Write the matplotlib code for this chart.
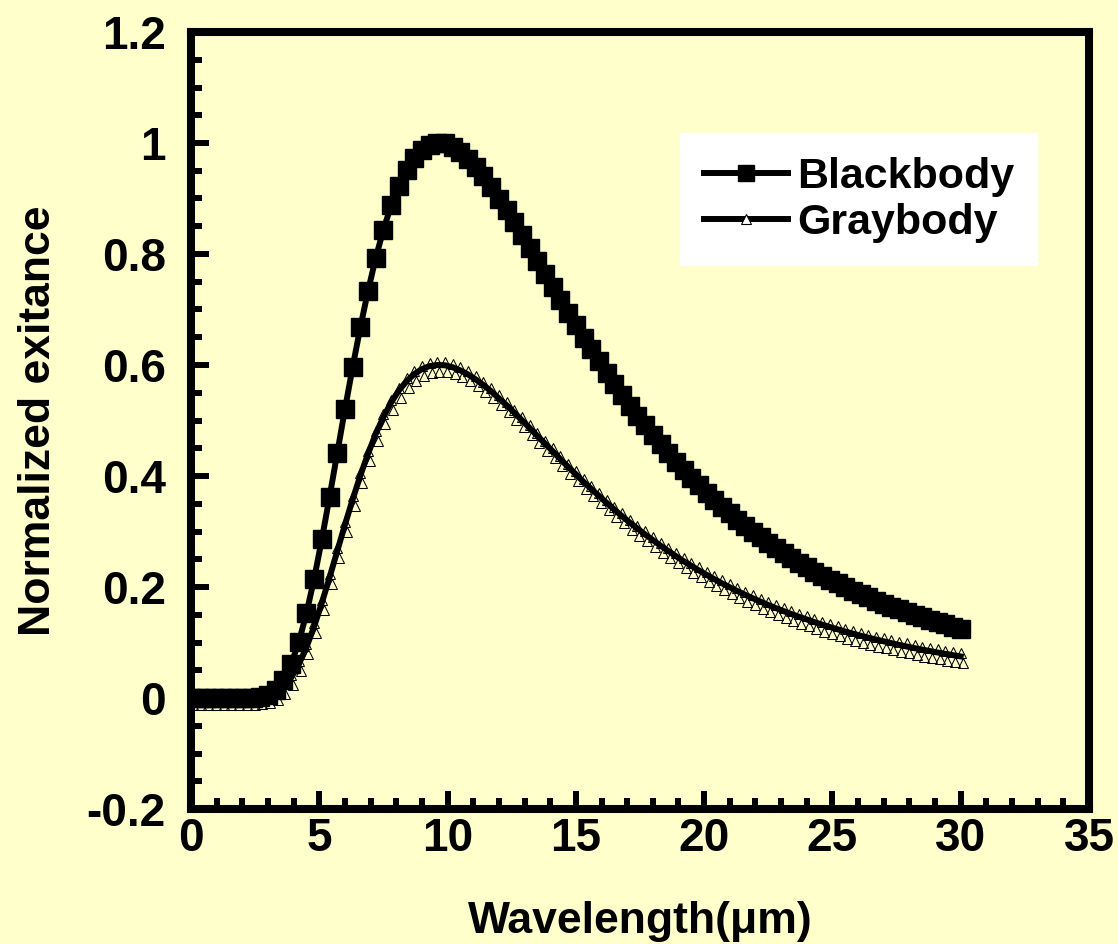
import matplotlib
matplotlib.use('Agg')
import matplotlib.pyplot as plt
import matplotlib.transforms as mtransforms
from matplotlib.ticker import MultipleLocator, FixedLocator, FixedFormatter
from matplotlib.lines import Line2D

# ---------------- data ----------------
wavelength = [0.0, 0.3, 0.6, 0.9, 1.2, 1.5, 1.8, 2.1, 2.4, 2.7,
              3.0, 3.3, 3.6, 3.9, 4.2, 4.5, 4.8, 5.1, 5.4, 5.7,
              6.0, 6.3, 6.6, 6.9, 7.2, 7.5, 7.8, 8.1, 8.4, 8.7,
              9.0, 9.3, 9.6, 9.9, 10.2, 10.5, 10.8, 11.1, 11.4, 11.7,
              12.0, 12.3, 12.6, 12.9, 13.2, 13.5, 13.8, 14.1, 14.4, 14.7,
              15.0, 15.3, 15.6, 15.9, 16.2, 16.5, 16.8, 17.1, 17.4, 17.7,
              18.0, 18.3, 18.6, 18.9, 19.2, 19.5, 19.8, 20.1, 20.4, 20.7,
              21.0, 21.3, 21.6, 21.9, 22.2, 22.5, 22.8, 23.1, 23.4, 23.7,
              24.0, 24.3, 24.6, 24.9, 25.2, 25.5, 25.8, 26.1, 26.4, 26.7,
              27.0, 27.3, 27.6, 27.9, 28.2, 28.5, 28.8, 29.1, 29.4, 29.7,
              30.0]

blackbody = [0.0, 0.0, 0.0, 0.0, 0.0, 0.0, 0.0, 0.0, 0.0003, 0.0016,
             0.0056, 0.015, 0.0324, 0.0606, 0.1006, 0.1525, 0.215, 0.2859, 0.3624, 0.4412,
             0.5203, 0.5961, 0.668, 0.7336, 0.7929, 0.8439, 0.8874, 0.9233, 0.9512, 0.9726,
             0.9878, 0.9968, 1.0, 0.9991, 0.9931, 0.9836, 0.9715, 0.9565, 0.9397, 0.921,
             0.900, 0.8794, 0.857, 0.834, 0.811, 0.787, 0.764, 0.741, 0.717, 0.694,
             0.672, 0.649, 0.628, 0.607, 0.586, 0.566, 0.546, 0.527, 0.509, 0.491,
             0.4745, 0.4575, 0.4417, 0.426, 0.411, 0.397, 0.383, 0.3697, 0.3566, 0.3442,
             0.3325, 0.321, 0.310, 0.2994, 0.2894, 0.2794, 0.2699, 0.261, 0.2521, 0.2438,
             0.236, 0.2279, 0.2204, 0.2133, 0.2064, 0.1996, 0.1933, 0.187, 0.1812, 0.1756,
             0.1701, 0.1646, 0.1595, 0.1547, 0.1499, 0.1453, 0.141, 0.1366, 0.1326, 0.1286,
             0.1248]

graybody = [0.0, 0.0, 0.0, 0.0, 0.0, 0.0, 0.0, 0.0, 0.0002, 0.001,
            0.0034, 0.009, 0.0194, 0.0364, 0.0604, 0.0915, 0.129, 0.1715, 0.2174, 0.2647,
            0.3122, 0.3577, 0.4008, 0.4402, 0.4757, 0.5063, 0.5324, 0.554, 0.5707, 0.5836,
            0.5927, 0.5981, 0.6, 0.5995, 0.5959, 0.5902, 0.5829, 0.5739, 0.5638, 0.5526,
            0.54, 0.5276, 0.5142, 0.5004, 0.4866, 0.4722, 0.4584, 0.4446, 0.4302, 0.4164,
            0.4032, 0.3894, 0.3768, 0.3642, 0.3516, 0.3396, 0.3276, 0.3162, 0.3054, 0.2946,
            0.2847, 0.2745, 0.265, 0.2556, 0.2466, 0.2382, 0.2298, 0.2218, 0.214, 0.2065,
            0.1995, 0.1926, 0.186, 0.1796, 0.1736, 0.1676, 0.1619, 0.1566, 0.1513, 0.1463,
            0.1416, 0.1367, 0.1322, 0.128, 0.1238, 0.1198, 0.116, 0.1122, 0.1087, 0.1054,
            0.1021, 0.0988, 0.0957, 0.0928, 0.0899, 0.0872, 0.0846, 0.082, 0.0796, 0.0772,
            0.0749]

x_ticks = [0, 5, 10, 15, 20, 25, 30, 35]
x_tick_labels = ['0', '5', '10', '15', '20', '25', '30', '35']
y_ticks = [-0.2, 0.0, 0.2, 0.4, 0.6, 0.8, 1.0, 1.2]
y_tick_labels = ['-0.2', '0', '0.2', '0.4', '0.6', '0.8', '1', '1.2']
series_labels = ['Blackbody', 'Graybody']
x_label = 'Wavelength(\u03bcm)'
y_label = 'Normalized exitance'

# ---------------- style ----------------
plt.rcParams['font.family'] = ['Liberation Sans', 'DejaVu Sans']
plt.rcParams['font.weight'] = 'bold'
plt.rcParams['axes.unicode_minus'] = False

BG = '#FFFFCC'
W, H = 1118, 944
fig = plt.figure(figsize=(W / 100, H / 100), dpi=100, facecolor=BG)
ax = fig.add_axes([191 / W, 1 - 809 / H, (1089 - 191) / W, (809 - 32) / H])
ax.set_facecolor(BG)

# graybody: open triangles (drawn with a slight double-print look) under a thick line
tri_up = mtransforms.offset_copy(ax.transData, fig=fig, x=0, y=3, units='dots')
tri_dn = mtransforms.offset_copy(ax.transData, fig=fig, x=2, y=-7, units='dots')
for tr in (tri_up, tri_dn):
    ax.plot(wavelength, graybody, linestyle='none', marker='^', ms=6.5,
            mfc='none', mec='black', mew=0.75, zorder=2, transform=tr)
ax.plot(wavelength, graybody, color='black', lw=4.3, zorder=2.5)
# blackbody: thick line with filled squares
ax.plot(wavelength, blackbody, color='black', lw=4.3, marker='s', ms=12.5,
        mfc='black', mec='black', zorder=3)

ax.set_xlim(0, 35)
ax.set_ylim(-0.2, 1.2)
ax.xaxis.set_major_locator(FixedLocator(x_ticks))
ax.xaxis.set_major_formatter(FixedFormatter(x_tick_labels))
ax.yaxis.set_major_locator(FixedLocator(y_ticks))
ax.yaxis.set_major_formatter(FixedFormatter(y_tick_labels))
ax.xaxis.set_minor_locator(MultipleLocator(1))
ax.yaxis.set_minor_locator(MultipleLocator(0.05))

for s in ax.spines.values():
    s.set_linewidth(5.8)
    s.set_color('black')

ax.tick_params(which='both', direction='in', top=False, right=False,
               color='black', width=4.3)
ax.tick_params(which='major', length=13, labelsize=33)
ax.tick_params(which='minor', length=8)
ax.tick_params(axis='y', which='major', pad=18)
ax.tick_params(axis='x', which='major', pad=6)

ax.set_xlabel(x_label, fontsize=32, fontweight='bold')
ax.set_ylabel(y_label, fontsize=32, fontweight='bold')
ax.xaxis.set_label_coords(0.5, -0.118)
ax.yaxis.set_label_coords(-0.147, 0.5)

handles = [
    Line2D([], [], color='black', lw=4.3, marker='s', ms=12, mfc='black', mec='black'),
    Line2D([], [], color='black', lw=4.3, marker='^', ms=7, mfc='white', mec='black', mew=0.8),
]
leg = ax.legend(handles, series_labels, loc='upper left',
                bbox_to_anchor=(0.545, 0.870), borderaxespad=0,
                frameon=True, fancybox=False, framealpha=1,
                facecolor='white', edgecolor='none',
                prop=dict(family=['Liberation Sans', 'DejaVu Sans'], weight='bold', size=31),
                handlelength=1.95, handletextpad=0.22, labelspacing=0.14,
                borderpad=0.55, numpoints=1)

fig.savefig('out.png', dpi=100, facecolor=BG)
